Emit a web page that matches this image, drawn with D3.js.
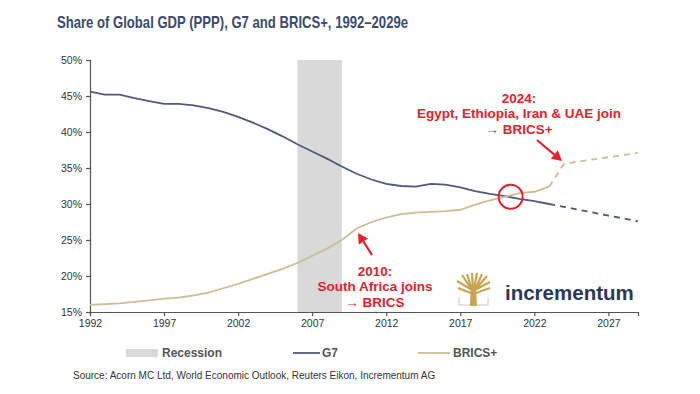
<!DOCTYPE html>
<html>
<head>
<meta charset="utf-8">
<script src="https://cdn.jsdelivr.net/npm/d3@7"></script>
<style>
  body { margin: 0; background: #fff; }
  svg text { font-family: "Liberation Sans", Arial, sans-serif; }
</style>
</head>
<body>
<div id="chart"></div>
<script>
// Data
var years = d3.range(1992, 2030);
var g7 = [45.6, 45.2, 45.2, 44.7, 44.3, 43.9, 43.9, 43.7, 43.3, 42.8, 42.1, 41.3, 40.4, 39.4, 38.3, 37.3, 36.3, 35.2,
          34.2, 33.4, 32.8, 32.5, 32.4, 32.8, 32.7, 32.3, 31.8, 31.4, 31.1, 30.7, 30.4, 30.0,
          29.6, 29.2, 28.8, 28.4, 28.0, 27.6];
var brics = [16.0, 16.1, 16.2, 16.4, 16.6, 16.85, 17.0, 17.3, 17.7, 18.3, 18.9, 19.6, 20.3, 21.0, 21.8, 22.8, 23.8, 25.0,
             26.6, 27.5, 28.1, 28.6, 28.8, 28.9, 29.0, 29.2, 29.9, 30.5, 31.0, 31.5, 31.7, 32.4,
             35.6, 35.9, 36.2, 36.5, 36.8, 37.1];
var lastActual = 2023;
var recession = [2006, 2009];
var yTicks = [15, 20, 25, 30, 35, 40, 45, 50];
var xTicks = [1992, 1997, 2002, 2007, 2012, 2017, 2022, 2027];

var width = 700, height = 394;
var g7Color = "#4f5b7d", bricsColor = "#cdbd94", red = "#e4212b";

var svg = d3.select("#chart").append("svg")
    .attr("width", width)
    .attr("height", height);

var x = d3.scaleLinear().domain([1992, 2029]).range([90, 638]);
var y = d3.scaleLinear().domain([15, 50]).range([312, 60]);

// Title (reference uses a condensed face, squeeze to its width)
svg.append("text")
    .attr("x", 57).attr("y", 28)
    .attr("font-size", 17).attr("font-weight", "bold")
    .attr("fill", "#3b4a6e")
    .attr("textLength", 351).attr("lengthAdjust", "spacingAndGlyphs")
    .text("Share of Global GDP (PPP), G7 and BRICS+, 1992\u20132029e");

// Recession band
svg.append("rect")
    .attr("x", x(recession[0])).attr("y", y(50))
    .attr("width", x(recession[1]) - x(recession[0]))
    .attr("height", y(15) - y(50))
    .attr("fill", "#d9d9d9");

// Axes
var yAxis = svg.append("g")
    .attr("transform", "translate(" + x(1992) + ",0)")
    .call(d3.axisLeft(y).tickValues(yTicks).tickSize(4).tickPadding(4).tickFormat(function(d) { return d + "%"; }));
var xAxis = svg.append("g")
    .attr("transform", "translate(0," + y(15) + ")")
    .call(d3.axisBottom(x).tickValues(xTicks).tickSize(4).tickPadding(4).tickFormat(d3.format("d")));
[yAxis, xAxis].forEach(function(a) {
    a.select(".domain").attr("stroke", "#555").attr("stroke-width", 1.2);
    a.selectAll(".tick line").attr("stroke", "#555").attr("stroke-width", 1.2);
    a.selectAll(".tick text").attr("fill", "#333").attr("font-size", 10.5)
        .attr("font-family", "'Liberation Sans', Arial, sans-serif");
});

// Lines: solid up to lastActual, dashed after
function series(vals) {
    return years.map(function(yr, i) { return { year: yr, v: vals[i] }; });
}
var line = d3.line().x(function(d) { return x(d.year); }).y(function(d) { return y(d.v); });

[[g7, g7Color], [brics, bricsColor]].forEach(function(s) {
    var pts = series(s[0]);
    svg.append("path")
        .datum(pts.filter(function(d) { return d.year <= lastActual; }))
        .attr("fill", "none").attr("stroke", s[1]).attr("stroke-width", 1.8)
        .attr("d", line);
    svg.append("path")
        .datum(pts.filter(function(d) { return d.year >= lastActual; }))
        .attr("fill", "none").attr("stroke", s[1]).attr("stroke-width", 1.8)
        .attr("stroke-dasharray", "6,5")
        .attr("d", line);
});

// Crossover circle
svg.append("circle")
    .attr("cx", x(2020.4)).attr("cy", y(31.0)).attr("r", 12)
    .attr("fill", "none").attr("stroke", red).attr("stroke-width", 2);

// Arrows
function arrow(x1, y1, x2, y2) {
    var ang = Math.atan2(y2 - y1, x2 - x1), len = 10, w = 5.5;
    var bx = x2 - len * Math.cos(ang), by = y2 - len * Math.sin(ang);
    svg.append("line")
        .attr("x1", x1).attr("y1", y1).attr("x2", bx).attr("y2", by)
        .attr("stroke", red).attr("stroke-width", 2.2);
    svg.append("path")
        .attr("d", "M" + x2 + "," + y2 +
            "L" + (bx + w * Math.sin(ang)) + "," + (by - w * Math.cos(ang)) +
            "L" + (bx - w * Math.sin(ang)) + "," + (by + w * Math.cos(ang)) + "Z")
        .attr("fill", red);
}
arrow(537, 140, 562, 161);
arrow(372, 255, 358, 233);

// Annotation texts
function note(cx, cy, lines) {
    lines.forEach(function(t, i) {
        svg.append("text")
            .attr("x", cx).attr("y", cy + i * 15.5)
            .attr("text-anchor", "middle").attr("dominant-baseline", "central")
            .attr("font-size", 13.5).attr("font-weight", "bold")
            .attr("fill", red)
            .text(t);
    });
}
note(519, 98, ["2024:", "Egypt, Ethiopia, Iran & UAE join", "\u2192 BRICS+"]);
note(375, 271, ["2010:", "South Africa joins", "\u2192 BRICS"]);

// Logo
var logo = svg.append("g").attr("transform", "translate(457,273)");
logo.append("path")
    .attr("d", "M2,24 L2,32 L31,32 L31,24")
    .attr("fill", "none").attr("stroke", "#c8c8c8").attr("stroke-width", 1);
logo.append("path")
    .attr("d", "M14,33 L15,17 L5,2 M15,17 L10,1 M16,16 L15,0 M17,16 L20,0 M18,17 L25,1 M18,17 L30,3 M15,17 L0,8 M18,17 L33,9 M14,20 L1,15 M19,20 L33,15")
    .attr("fill", "none").attr("stroke", "#c9a551").attr("stroke-width", 2.2);
logo.append("path")
    .attr("d", "M13,33 L14,16 L19,16 L20,33 Z")
    .attr("fill", "#c9a551");
svg.append("text")
    .attr("x", 505).attr("y", 292)
    .attr("dominant-baseline", "central")
    .attr("font-size", 20.5).attr("font-weight", "bold")
    .attr("fill", "#2b375a")
    .text("incrementum");

// Legend
var legend = svg.append("g").attr("font-size", 12).attr("font-weight", "bold").attr("fill", "#555");
legend.append("rect").attr("x", 126).attr("y", 349).attr("width", 32).attr("height", 8).attr("fill", "#d9d9d9");
legend.append("text").attr("x", 162).attr("y", 353).attr("dominant-baseline", "central").text("Recession");
legend.append("line").attr("x1", 293).attr("x2", 320).attr("y1", 353).attr("y2", 353).attr("stroke", g7Color).attr("stroke-width", 1.8);
legend.append("text").attr("x", 322).attr("y", 353).attr("dominant-baseline", "central").text("G7");
legend.append("line").attr("x1", 418).attr("x2", 450).attr("y1", 353).attr("y2", 353).attr("stroke", bricsColor).attr("stroke-width", 1.8);
legend.append("text").attr("x", 453).attr("y", 353).attr("dominant-baseline", "central").text("BRICS+");

// Source
svg.append("text")
    .attr("x", 73).attr("y", 375)
    .attr("dominant-baseline", "central")
    .attr("font-size", 10).attr("fill", "#333")
    .text("Source: Acorn MC Ltd, World Economic Outlook, Reuters Eikon, Incrementum AG");
</script>
</body>
</html>
